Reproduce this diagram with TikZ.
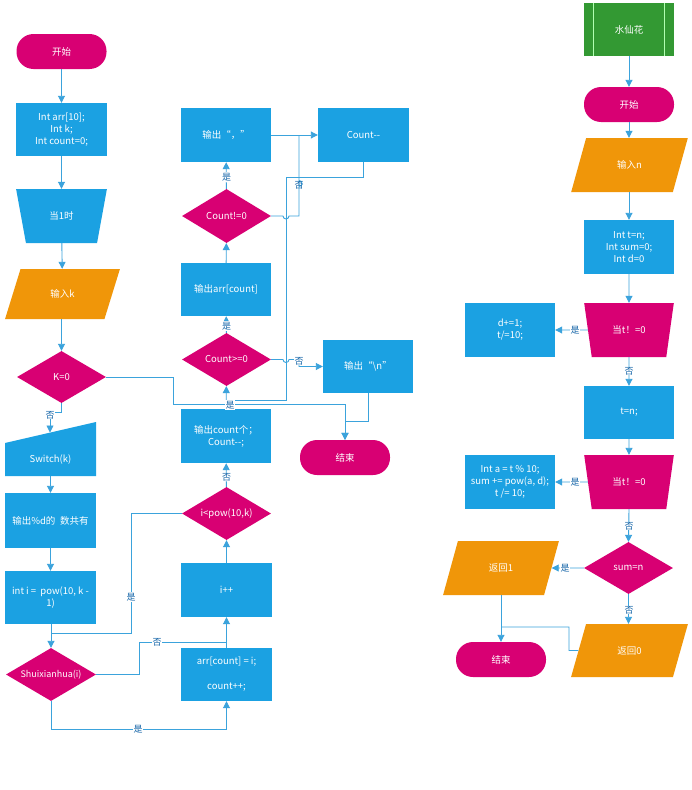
\documentclass[tikz,border=0pt]{standalone}
\usepackage{fontspec}
\setmainfont{Noto Sans CJK SC}
\usetikzlibrary{shapes.geometric,arrows.meta}
\definecolor{mag}{HTML}{D80073}
\definecolor{blu}{HTML}{1BA1E2}
\definecolor{ora}{HTML}{F09609}
\definecolor{grn}{HTML}{339933}
\definecolor{lin}{HTML}{3BA3DC}
\definecolor{lab}{HTML}{1565A8}
\tikzset{
  base/.style={text=white,font=\fontsize{9.5}{12}\selectfont,align=center,inner sep=0pt},
  term/.style={base,fill=mag,rectangle,rounded corners=17pt,minimum width=90pt,minimum height=35pt},
  proc/.style={base,fill=blu,rectangle,minimum width=90pt,minimum height=54pt},
  dec/.style={base,fill=mag,diamond,aspect=1.7,minimum width=89pt,minimum height=53pt},
  loopt/.style={base,trapezium,trapezium stretches=true,shape border rotate=180,minimum width=91pt,minimum height=54pt,trapezium angle=69},
  io/.style={base,fill=ora,trapezium,trapezium stretches=true,trapezium left angle=64,trapezium right angle=116,minimum width=117pt,minimum height=54pt},
  conn/.style={draw=lin,line width=0.9pt},
  arr/.style={conn,-{Triangle[length=7pt,width=7pt]}},
  lbl/.style={fill=white,text=lab,font=\fontsize{9}{10}\selectfont,inner sep=0.6pt},
}
\begin{document}
\begin{tikzpicture}[x=1pt,y=-1pt]
\path[use as bounding box,fill=white] (0,0) rectangle (692,790);
% ---------- left column ----------
\node[term] (start1) at (61.5,51.5) {开始};
\node[proc,minimum width=91pt,minimum height=53pt] (init) at (61.5,129.5) {Int arr[10];\\Int k;\\Int count=0;};
\node[loopt,fill=blu] (when1) at (61.5,216) {当1时};
\node[io,minimum width=115pt,minimum height=50pt,trapezium left angle=63,trapezium right angle=117] (inputk) at (62.5,294) {输入k};
\node[dec,minimum height=52pt] (k0) at (61.5,377) {K=0};
\fill[blu] (5,443) -- (96,422) -- (96,476) -- (5,476) -- cycle;
\node[base] (switch) at (50.5,460) {Switch(k)};
\coordinate (swtop) at (50,432.5);
\node[proc,minimum width=91pt,minimum height=55pt] (outd) at (50.5,520.5) {输出\%d的\hspace{0.5em}数共有};
\node[proc,minimum width=91pt,minimum height=53pt] (inti) at (50.5,597.5) {int i = \ pow(10, k -\\1)};
\node[dec,minimum width=90pt,font=\fontsize{9}{12}\selectfont] (shui) at (51,674.5) {Shuixianhua(i)};
\node[proc,minimum width=91pt,minimum height=53pt] (arrb) at (226.5,674.5) {arr[count] = i;\\[13pt]count++;};
\node[proc,minimum width=91pt] (ipp) at (226.5,590) {i++};
\node[dec] (ilt) at (226.5,513.5) {i<pow(10,k)};
\node[proc] (outc) at (226,436) {输出count个；\\Count-{}-;};
\node[dec] (cge) at (226.5,359.5) {Count>=0};
\node[proc,minimum height=53pt] (outarr) at (226,289.5) {输出arr[count]};
\node[dec,minimum height=54pt] (cne) at (226.5,216) {Count!=0};
\node[proc] (outcomma) at (226,135) {输出“，”};
\node[proc,minimum width=91pt] (cmm) at (363.5,135) {Count-{}-};
\node[proc,minimum height=53pt] (outn) at (368,366.5) {输出“\textbackslash n”};
\node[term] (end1) at (345,457.5) {结束};
% ---------- right column ----------
\node[proc,fill=grn,minimum height=53pt] (sxh) at (629,29.5) {水仙花};
\draw[green!30!white,line width=0.7pt] ([xshift=10pt]sxh.north west) -- ([xshift=10pt]sxh.south west)
  ([xshift=-10pt]sxh.north east) -- ([xshift=-10pt]sxh.south east);
\node[term] (start2) at (629,104.5) {开始};
\node[io] (inputn) at (629.5,165) {输入n};
\node[proc] (initn) at (629,247) {Int t=n;\\Int sum=0;\\Int d=0};
\node[loopt,fill=mag,minimum width=90pt] (tz1) at (629,330) {当t！=0};
\node[proc] (dbox) at (510,330) {d+=1;\\t/=10;};
\node[proc,minimum height=53pt] (tn) at (629,412.5) {t=n;};
\node[loopt,fill=mag,minimum width=90pt] (tz2) at (629,482) {当t！=0};
\node[proc] (abox) at (510,482) {Int a = t \% 10;\\sum += pow(a, d);\\t /= 10;};
\node[dec,minimum height=52pt] (sumn) at (628.5,568) {sum=n};
\node[io,minimum width=116pt] (ret1) at (501,568) {返回1};
\node[io,minimum height=53pt] (ret0) at (629.5,650.5) {返回0};
\node[term] (end2) at (501,659.5) {结束};
% ---------- left connectors ----------
\draw[arr] (start1) -- (init);
\draw[arr] (init) -- (when1);
\draw[arr] (when1) -- (inputk);
\draw[arr] (inputk.south -| k0) -- (k0);
\draw[arr] (k0.south) -- (61.5,412) -- (50,412) -- (swtop);
\node[lbl] (l1) at (50,415) {否};
\draw[arr] (switch.south |- 0,476) -- (outd);
\draw[arr] (outd) -- (inti);
\draw[arr] (inti.south -| shui) -- (shui.north);
\draw[arr] (shui.east) -- (139,674.5) -- (139,642) -- (226.5,642) -- (ipp.south);
\node[lbl] (l2) at (157,642) {否};
\draw[conn] (arrb.north) -- (226.5,642);
\draw[arr] (shui.south) -- (51,729) -- (226.5,729) -- (arrb.south);
\node[lbl] (l3) at (138,729) {是};
\draw[arr] (ipp) -- (ilt);
\draw[conn] (ilt.west) -- (131,513.5) -- (131,633) -- (51,633);
\node[lbl] (l4) at (131,597) {是};
\draw[arr] (ilt) -- (outc);
\node[lbl] (l5) at (226.5,477) {否};
\draw[arr] (outc) -- (cge);
\draw[arr] (cge) -- (outarr);
\node[lbl] (l6) at (226.5,326) {是};
\draw[arr] (outarr) -- (cne);
\draw[arr] (cne) -- (outcomma);
\node[lbl] (l7) at (226.5,177) {是};
\draw[arr] (outcomma) -- (cmm);
\draw[conn] (cne.east) -- (283,216) arc[start angle=180,end angle=0,radius=3] -- (299,216) -- (299,180.5)
  arc[start angle=-90,end angle=90,radius=3] -- (299,135);
\node[lbl,fill=none] (l8) at (299,185) {否};
\draw[conn] (cmm.south) -- (363.5,177.5) -- (286,177.5) -- (286,400) -- (226.5,400);
\draw[arr] (cge.east) -- (283,359.5) arc[start angle=180,end angle=0,radius=3] -- (299,359.5) -- (299,366.5) -- (outn.west);
\node[lbl] (l9) at (299,361) {否};
\draw[arr] (outn.south) -- (368,421) -- (345,421) -- (end1.north);
\draw[arr] (k0.east) -- (173,377) -- (173,404.5) -- (345,404.5) -- (end1.north);
\node[lbl] (l10) at (230,405) {是};
% ---------- right connectors ----------
\draw[arr] (sxh) -- (start2);
\draw[arr] (start2) -- (inputn.north -| start2);
\draw[arr] (inputn.south -| initn) -- (initn);
\draw[arr] (initn) -- (tz1.north);
\draw[arr] (tz1.west) -- (dbox.east);
\node[lbl] (r1) at (575,330) {是};
\draw[arr] (tz1.south) -- (tn);
\node[lbl] (r2) at (629,371) {否};
\draw[arr] (tn) -- (tz2.north);
\draw[arr] (tz2.west) -- (abox.east);
\node[lbl] (r3) at (575,482) {是};
\draw[arr] (tz2.south) -- (sumn.north);
\node[lbl] (r4) at (629,526) {否};
\draw[arr] (sumn.west) -- (ret1.east);
\node[lbl] (r5) at (565,568) {是};
\draw[arr] (sumn.south) -- (ret0.north -| sumn);
\node[lbl] (r6) at (629,610) {否};
\draw[arr] (ret1.south -| end2) -- (end2.north);
\draw[conn] (ret0.west) -- (569,650.5) -- (569,627) -- (501,627);
\end{tikzpicture}
\end{document}
